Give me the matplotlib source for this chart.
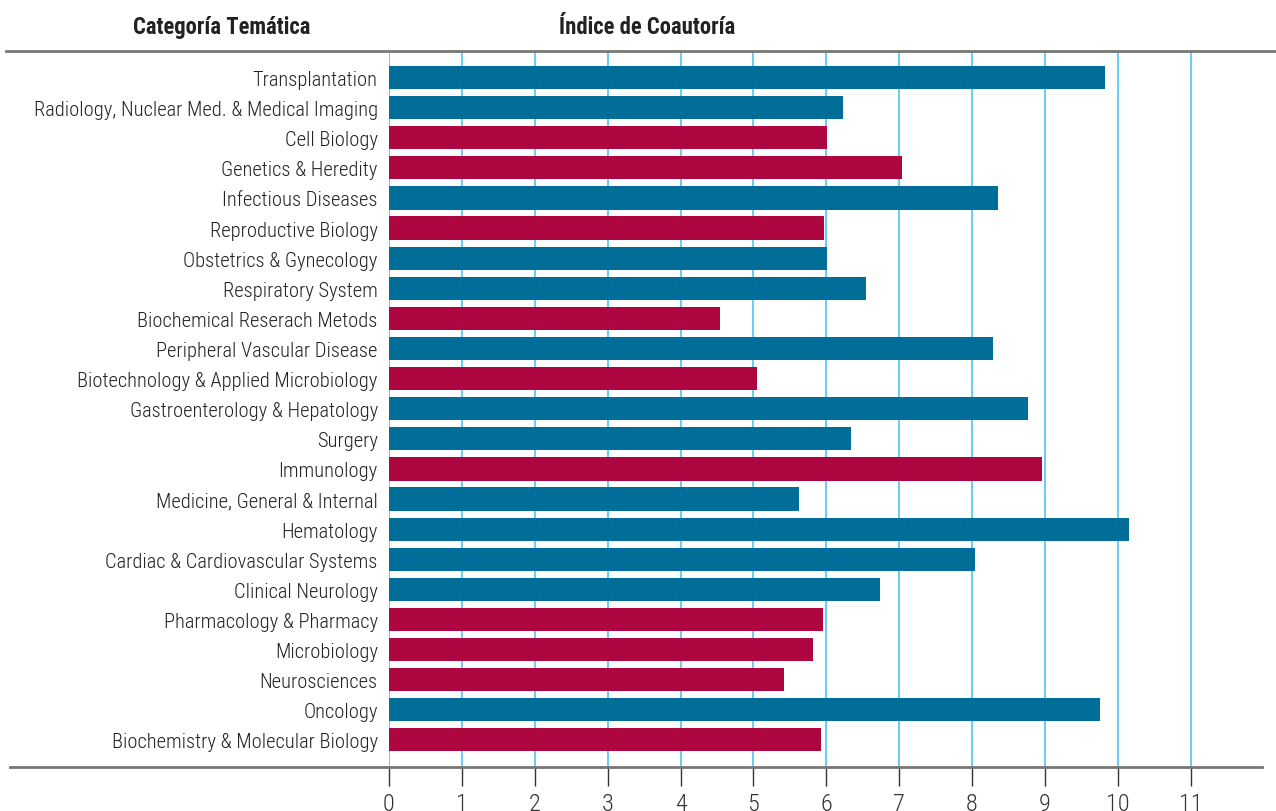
import matplotlib
matplotlib.use('Agg')
import matplotlib.pyplot as plt
from matplotlib import font_manager as fm
from matplotlib.lines import Line2D

# dados (de cima para baixo)
categorias = ['Transplantation', 'Radiology, Nuclear Med. & Medical Imaging', 'Cell Biology',
              'Genetics & Heredity', 'Infectious Diseases', 'Reproductive Biology',
              'Obstetrics & Gynecology', 'Respiratory System', 'Biochemical Reserach Metods',
              'Peripheral Vascular Disease', 'Biotechnology & Applied Microbiology',
              'Gastroenterology & Hepatology', 'Surgery', 'Immunology',
              'Medicine, General & Internal', 'Hematology', 'Cardiac & Cardiovascular Systems',
              'Clinical Neurology', 'Pharmacology & Pharmacy', 'Microbiology', 'Neurosciences',
              'Oncology', 'Biochemistry & Molecular Biology']
indice = [9.82, 6.23, 6.01, 7.04, 8.36, 5.97, 6.01, 6.54, 4.54, 8.29, 5.05, 8.77, 6.34,
          8.96, 5.62, 10.15, 8.04, 6.74, 5.95, 5.82, 5.42, 9.75, 5.93]
grupo = ['c', 'c', 'b', 'b', 'c', 'b', 'c', 'c', 'b', 'c', 'b', 'c', 'c',
         'b', 'c', 'c', 'c', 'c', 'b', 'b', 'b', 'c', 'b']  # c = clinica, b = basica
cores = {'c': '#006e99', 'b': '#ae0640'}
ticks = list(range(12))

# procura uma fonte estreita (condensed/narrow)
nomes = {f.name for f in fm.fontManager.ttflist}
fonte = {'family': 'DejaVu Sans', 'stretch': 'condensed'}
for cand in ['Roboto Condensed', 'Liberation Sans Narrow', 'Open Sans Condensed', 'Noto Sans Condensed']:
    if cand in nomes:
        fonte = {'family': cand, 'stretch': 'normal'}
        break
plt.rcParams['font.family'] = [fonte['family'], 'DejaVu Sans']
plt.rcParams['font.stretch'] = fonte['stretch']

W, H = 1276, 812
fig = plt.figure(figsize=(W / 100, H / 100), dpi=100)
ax = fig.add_axes([388.9 / W, (H - 768) / H, (1263.7 - 388.9) / W, (768 - 52) / H])

ypos = list(range(len(categorias)))
ax.barh(ypos, indice, height=0.77, color=[cores[g] for g in grupo], zorder=3)

ax.set_xlim(0, 12)
ax.set_ylim(22.9, -0.88)
ax.set_yticks(ypos)
ax.set_yticklabels(categorias, fontsize=14.8, color='#222222', fontweight='light')
ax.tick_params(axis='y', length=0, pad=8)
ax.set_xticks(ticks)
ax.set_xticklabels([str(t) for t in ticks], fontsize=17.5, color='#333333', fontweight='light')
ax.tick_params(axis='x', length=14, width=1, color='#333333', pad=4)

for t in ticks:
    ax.axvline(t, color='#4cc4f2', lw=1.2, zorder=1)

for s in ax.spines.values():
    s.set_visible(False)

# linhas horizontais de cima e de baixo
fig.add_artist(Line2D([6 / W, 1.0], [(H - 52) / H] * 2, color='#777777', lw=2))
fig.add_artist(Line2D([10 / W, 1262 / W], [(H - 768) / H] * 2, color='#777777', lw=2))

fig.text(222 / W, (H - 34) / H, 'Categoría Temática', ha='center', va='baseline',
         fontsize=16.3, fontweight='bold', color='#222222')
fig.text(647 / W, (H - 34) / H, 'Índice de Coautoría', ha='center', va='baseline',
         fontsize=16.3, fontweight='bold', color='#222222')

fig.savefig('out.png', dpi=100)
